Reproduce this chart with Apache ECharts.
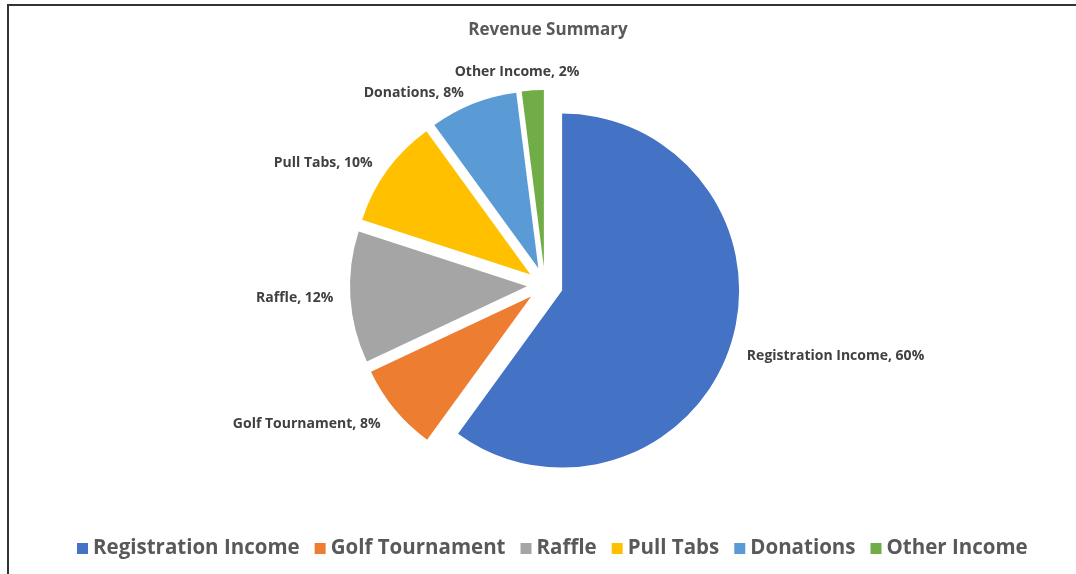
<!DOCTYPE html>
<html>
<head>
<meta charset="utf-8">
<script src="https://cdn.jsdelivr.net/npm/echarts@6/dist/echarts.min.js"></script>
<style>
html, body { margin: 0; padding: 0; background: #fff; }
#chart { width: 1076px; height: 574px; }
</style>
</head>
<body>
<div id="chart"></div>
<script>
let categories = ['Registration Income', 'Golf Tournament', 'Raffle', 'Pull Tabs', 'Donations', 'Other Income'];
let shares = [60, 8, 12, 10, 8, 2];
let colors = ['#4472C4', '#ED7D31', '#A5A5A5', '#FFC000', '#5B9BD5', '#70AD47'];

let chart = echarts.init(document.getElementById('chart'));
let seriesData = categories.map((name, i) => ({
	name: name,
	value: shares[i],
	selected: true
}));

// nudge labels a little toward where Excel puts them
function placeLabel(p) {
	if (p.dataIndex === categories.length - 1) return { align: 'center', dx: -10, dy: -6 };
	if (p.labelRect.y + p.labelRect.height / 2 > 320) return { dy: 7 };
	return {};
}

let option = {
	color: colors,
	animation: false,
	textStyle: { fontFamily: 'Open Sans' },
	title: {
		text: 'Revenue Summary',
		left: 543,
		top: 17,
		textAlign: 'center',
		textStyle: { fontSize: 17, fontWeight: 'bold', color: '#595959', fontFamily: 'Open Sans' }
	},
	legend: {
		left: 72,
		top: 533,
		icon: 'rect',
		itemWidth: 11,
		itemHeight: 11,
		itemGap: 15,
		textStyle: { fontSize: 20.5, fontWeight: 'bold', color: '#595959', fontFamily: 'Open Sans' },
		data: categories
	},
	graphic: [{
		type: 'polyline',
		shape: { points: [[8, 574], [8, 5], [1076, 5]] },
		style: { stroke: '#333', lineWidth: 2, fill: null }
	}],
	series: [{
		type: 'pie',
		center: [545, 285],
		radius: 177,
		startAngle: 90,
		selectedMode: 'multiple',
		selectedOffset: 18,
		avoidLabelOverlap: false,
		emphasis: { scale: false },
		itemStyle: { borderWidth: 0 },
		label: {
			show: true,
			position: 'outside',
			formatter: p => p.name + ', ' + Math.round(p.percent) + '%',
			fontSize: 14,
			fontWeight: 'bold',
			color: '#404040',
			fontFamily: 'Open Sans'
		},
		labelLine: { show: false, length: 12, length2: 0 },
		labelLayout: placeLabel,
		data: seriesData
	}]
};
chart.setOption(option);
</script>
</body>
</html>
